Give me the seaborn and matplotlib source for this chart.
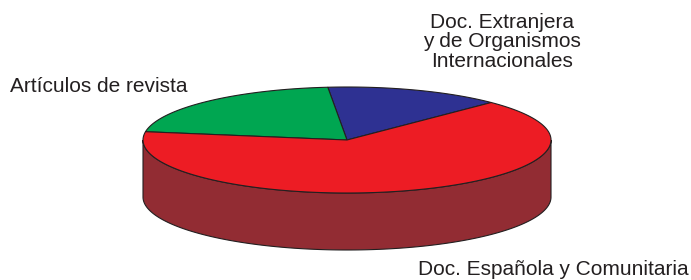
import numpy as np
import matplotlib
import matplotlib.pyplot as plt
import seaborn as sns
from matplotlib.patches import Polygon

matplotlib.use('Agg')

# data, counterclockwise from the start angle
labels = ['Doc. Extranjera\ny de Organismos\nInternacionales',
          'Artículos de revista',
          'Doc. Española y Comunitaria']
shares = [14, 21, 65]
top_colors = ['#2E3192', '#00A651', '#ED1C24']
side_colors = ['#1E2060', '#00693A', '#922C33']

sns.set_theme(style='white')
plt.rcParams['font.family'] = ['Liberation Sans', 'DejaVu Sans']

fig = plt.figure(figsize=(6.91, 2.8), dpi=100)
ax = fig.add_axes([0, 0, 1, 1])
ax.set_xlim(0, 691)
ax.set_ylim(280, 0)
ax.axis('off')

# pie geometry (pixels)
cx, cy, rx, ry, depth = 347, 140, 204, 53, 57
start = 45.0
edge = '#231F20'


def arc(t0, t1, dy=0.0):
    t = np.radians(np.linspace(t0, t1, 200))
    return np.column_stack([cx + rx * np.cos(t), cy - ry * np.sin(t) + dy])


angles = start + 360 * np.concatenate([[0], np.cumsum(shares)]) / sum(shares)

# front side of the cylinder (visible between 180 and 360 deg)
for i in range(len(shares)):
    a0, a1 = angles[i], angles[i + 1]
    for off in (0, 360):
        lo, hi = max(a0, 180 + off), min(a1, 360 + off)
        if hi > lo:
            top = arc(lo, hi)
            bot = arc(hi, lo, depth)
            ax.add_patch(Polygon(np.vstack([top, bot]), closed=True,
                                 facecolor=side_colors[i], edgecolor=edge,
                                 linewidth=0.8))

# top face
for i in range(len(shares)):
    pts = np.vstack([[cx, cy], arc(angles[i], angles[i + 1])])
    ax.add_patch(Polygon(pts, closed=True, facecolor=top_colors[i],
                         edgecolor=edge, linewidth=0.8))

fs = 15
ax.text(502, 13, labels[0], ha='center', va='top', fontsize=fs,
        linespacing=1.02, color='#231F20')
ax.text(10, 92, labels[1], ha='left', va='baseline', fontsize=fs,
        color='#231F20')
ax.text(689, 275, labels[2], ha='right', va='baseline', fontsize=fs,
        color='#231F20')

fig.savefig('out.png', dpi=100, facecolor='white')
plt.close(fig)
